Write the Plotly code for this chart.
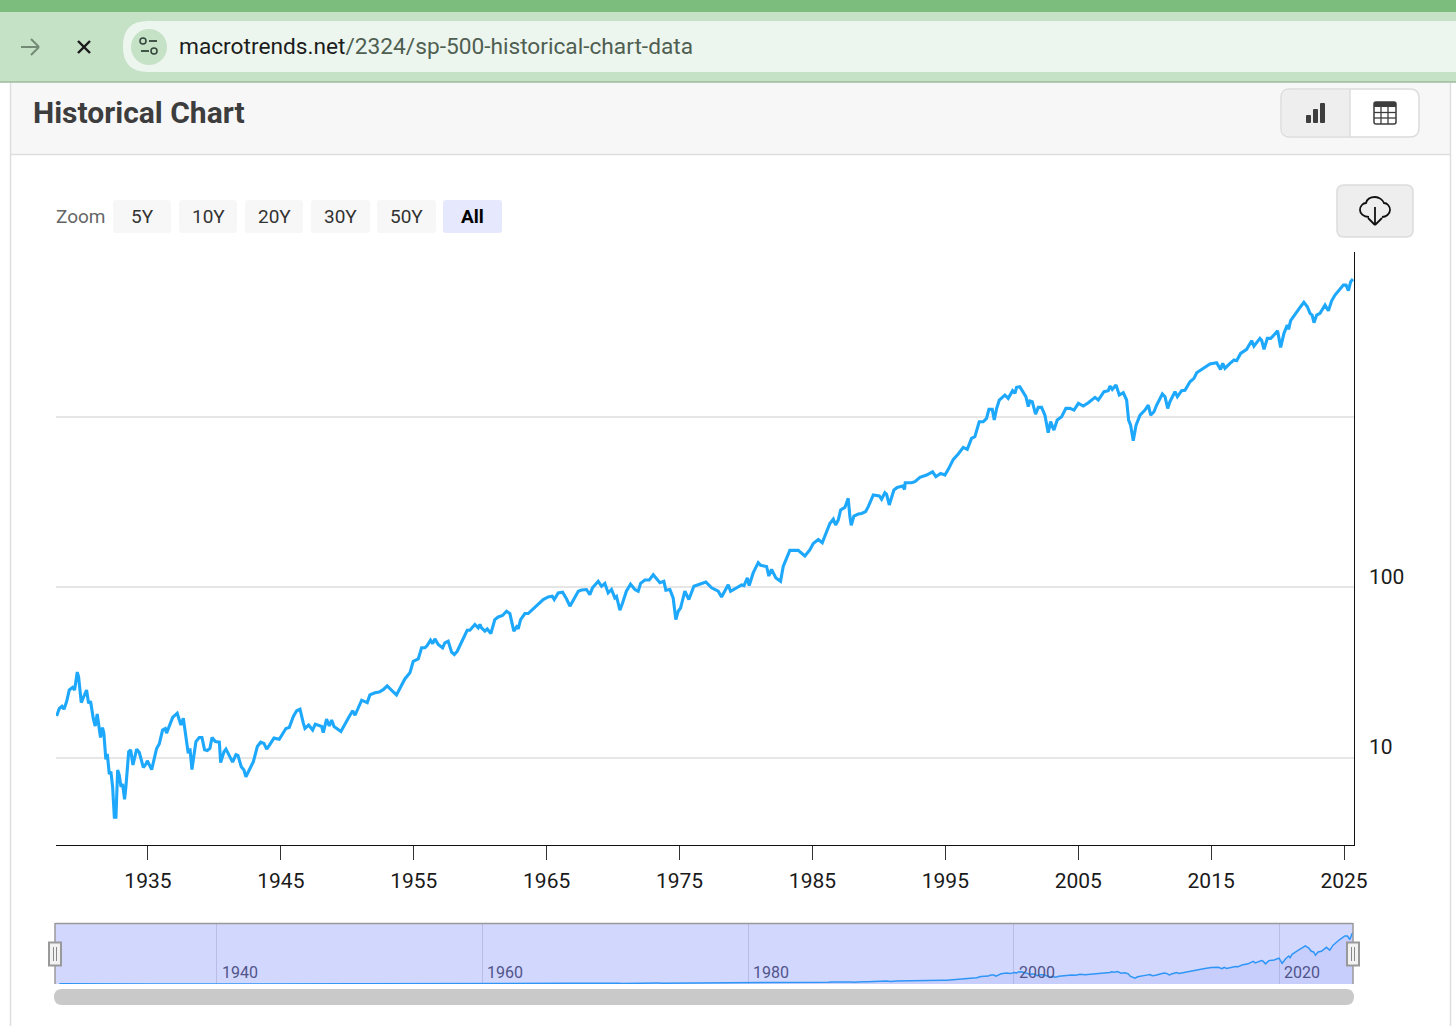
import plotly.graph_objects as go

W, H = 1456, 1026

years = [
 1928.13,1928.33,1928.53,1928.68,1928.88,1929.08,1929.33,1929.48,1929.68,1929.78,1929.98,
 1930.18,1930.38,1930.53,1930.68,1930.88,1931.03,1931.18,1931.43,1931.58,1931.68,1931.83,1931.94,
 1932.09,1932.21,1932.34,1932.47,1932.59,1932.72,1932.84,1932.97,1933.09,1933.24,1933.34,1933.55,1933.70,1933.87,
 1934.15,1934.35,1934.65,1934.85,1934.95,1935.28,1935.65,1935.85,1936.10,1936.30,1936.40,1936.66,1936.86,
 1937.20,1937.48,1937.66,1937.86,1938.03,1938.16,1938.31,1938.46,1938.61,1938.86,1939.06,1939.26,1939.46,1939.66,1939.82,
 1940.07,1940.37,1940.47,1940.72,1940.87,1941.12,1941.37,1941.62,1941.77,1942.02,1942.22,1942.37,1942.62,1942.93,
 1943.23,1943.48,1943.73,1943.93,1944.13,1944.48,1944.88,1945.18,1945.38,1945.63,1945.94,1946.19,1946.44,1946.69,1946.81,
 1947.09,1947.39,1947.59,1948.07,1948.19,1948.44,1948.64,1948.82,1949.00,1949.52,1950.07,1950.40,1950.58,
 1951.08,1951.50,1951.70,1952.08,1952.40,1952.70,1953.00,1953.40,1953.70,
 1954.33,1954.71,1954.96,1955.34,1955.59,1955.84,1956.01,1956.26,1956.42,1956.59,1956.84,1957.17,1957.34,1957.59,1957.85,
 1958.05,1958.27,1958.72,1959.02,1959.22,1959.60,1959.85,1959.98,1960.10,1960.35,1960.53,1960.80,1961.10,1961.36,1961.68,1961.98,
 1962.23,1962.53,1962.74,1962.86,1963.04,1963.36,1963.61,1963.99,1964.37,1964.74,1965.12,1965.42,1965.57,1965.87,1966.20,1966.50,1966.75,
 1967.05,1967.38,1967.63,1968.00,1968.25,1968.45,1968.88,1969.13,1969.38,1969.63,1969.88,1970.13,1970.26,1970.51,1970.71,
 1971.00,1971.31,1971.64,1971.89,1972.07,1972.39,1972.72,1973.02,1973.27,1973.52,1973.82,1973.97,1974.27,1974.52,1974.72,1974.90,
 1975.08,1975.40,1975.70,1976.08,1976.40,1976.98,1977.41,1977.91,1978.16,1978.66,1978.84,1979.29,1979.67,1979.85,
 1980.10,1980.24,1980.54,1980.92,1981.10,1981.55,1981.72,1981.92,1982.25,1982.60,1982.80,1983.30,1983.93,1984.43,1984.80,
 1985.06,1985.44,1985.74,1986.06,1986.31,1986.57,1986.74,1986.94,1987.12,1987.44,1987.69,1987.82,1987.92,
 1988.12,1988.45,1988.70,1989.00,1989.20,1989.58,1990.03,1990.20,1990.45,1990.58,1990.78,1991.13,1991.38,1991.78,1991.93,1991.98,
 1992.46,1992.71,1993.09,1993.59,1994.04,1994.29,1994.64,1994.97,1995.22,1995.60,1995.97,1996.35,1996.65,1996.97,
 1997.22,1997.55,1997.85,1998.10,1998.28,1998.53,1998.68,1998.86,1999.06,1999.48,1999.73,2000.06,2000.24,2000.36,2000.60,2000.86,
 2001.06,2001.24,2001.36,2001.54,2001.79,2001.99,2002.24,2002.49,2002.74,2002.92,2003.17,2003.42,2003.75,2004.07,
 2004.38,2004.68,2005.01,2005.38,2005.76,2006.26,2006.51,2006.94,2007.26,2007.39,2007.56,2007.84,
 2008.09,2008.39,2008.64,2008.79,2008.94,2009.14,2009.35,2009.65,2010.02,2010.27,2010.45,2010.70,2010.90,
 2011.33,2011.53,2011.73,2011.90,2012.28,2012.46,2012.78,2013.03,2013.41,2013.71,2013.91,2014.41,2014.91,
 2015.41,2015.71,2015.87,2016.04,2016.42,2016.72,2016.92,2017.22,2017.67,2018.05,2018.22,2018.67,2018.80,2018.98,
 2019.23,2019.48,2019.63,2020.00,2020.23,2020.48,2020.73,2020.83,2020.98,2021.43,2021.73,2021.98,
 2022.24,2022.44,2022.60,2022.74,2022.94,2023.19,2023.57,2023.82,2024.07,2024.32,2024.57,2024.95,2025.15,2025.33,2025.50,2025.67,
]
sp500 = [
 17.5,19.4,20.0,19.2,21.3,24.9,25.8,24.9,31.7,29.8,21.0,
 22.7,24.9,20.8,21.4,17.0,15.3,18.0,13.1,15.0,13.9,9.75,10.5,
 8.0,8.26,6.74,4.46,4.46,8.45,7.9,6.74,7.0,5.68,6.74,10.8,11.07,9.04,
 11.2,10.7,8.75,9.16,9.58,8.5,11.3,12.0,14.5,14.8,13.9,15.9,17.2,
 18.2,15.5,17.0,12.7,10.6,11.3,8.5,10.3,12.4,13.1,13.1,11.1,11.0,11.3,13.1,
 12.4,12.3,9.33,10.8,11.2,10.3,9.4,10.4,10.3,8.83,8.45,7.72,8.5,9.45,
 11.6,12.3,12.1,11.2,11.8,13.0,12.8,13.9,14.8,15.0,17.4,18.8,19.2,15.9,14.8,
 15.5,14.5,15.7,15.2,14.0,16.8,15.3,16.6,15.2,14.2,17.0,18.8,17.7,
 21.7,21.0,23.3,24.0,24.2,25.0,26.3,24.5,23.3,
 28.9,31.4,36.7,37.9,44.0,44.0,45.4,48.8,46.6,49.7,46.0,44.0,47.0,48.1,41.5,
 40.2,42.0,49.2,55.8,55.8,60.3,57.6,60.3,57.6,55.1,56.8,53.4,64.4,66.8,68.1,72.1,
 69.9,55.1,58.4,56.8,64.4,69.9,69.9,74.5,80.0,84.5,87.5,88.3,84.5,92.4,93.3,85.1,77.2,
 85.1,94.5,96.0,96.7,90.3,98.9,108,101,105,92.4,96.7,86.3,88.0,73.1,80.7,
 94.5,104,96.7,94.5,105,110,110,118,111,106,108,95.8,96.7,86.3,64.4,72.1,
 75.5,94.5,84.5,101,103,107,98.9,94.5,87.5,103,94.5,99,103,102,
 113,102,121,139,134,132,116,127,113,108,132,164,164,152,165,
 180,190,182,211,236,250,231,247,283,293,331,258,230,
 261,268,270,277,296,347,342,327,357,350,303,371,384,391,374,409,
 409,415,440,454,474,444,464,454,490,561,603,659,642,745,
 762,932,932,975,1102,1102,955,1116,1250,1337,1278,1418,1368,1483,1497,1380,
 1307,1142,1233,1222,1034,1132,1132,1020,803,933,833,955,998,1116,
 1116,1091,1194,1152,1205,1295,1249,1399,1418,1510,1443,1530,
 1337,1380,1250,954,891,721,891,1020,1091,1168,1020,1067,1168,
 1356,1307,1116,1222,1399,1307,1418,1426,1600,1675,1807,1917,2033,
 2068,1890,2051,1917,2051,2144,2125,2345,2477,2786,2589,2875,2800,2477,
 2875,2875,2950,3188,2545,3076,3441,3244,3648,4120,4406,4675,
 4406,4027,3936,3550,3936,4027,4509,4169,4775,5157,5470,5902,5902,5470,6180,6398,
]
main_ticks = [1935,1945,1955,1965,1975,1985,1995,2005,2015,2025]
grid_values = [10,100,1000]
y_label_values = [10,100]
nav_ticks = [1940,1960,1980,2000,2020]
zoom_labels = ["5Y","10Y","20Y","30Y","50Y","All"]

LINE = "#1ea8fc"
def X(p): return p / W
def Y(p): return 1 - p / H

def rrect(x0, y0, x1, y1, r):
    pts = [(x0+r,y0),(x1-r,y0),(x1,y0+r),(x1,y1-r),(x1-r,y1),(x0+r,y1),(x0,y1-r),(x0,y0+r)]
    f = lambda a: f"{X(a[0]):.6f},{Y(a[1]):.6f}"
    return (f"M{f(pts[0])} L{f(pts[1])} Q{f((x1,y0))} {f(pts[2])} L{f(pts[3])} Q{f((x1,y1))} {f(pts[4])} "
            f"L{f(pts[5])} Q{f((x0,y1))} {f(pts[6])} L{f(pts[7])} Q{f((x0,y0))} {f(pts[0])} Z")

shapes = []
def rect(x0,y0,x1,y1,fill,line=None,lw=0,layer="below"):
    shapes.append(dict(type="rect",xref="paper",yref="paper",x0=X(x0),x1=X(x1),y0=Y(y0),y1=Y(y1),
                       fillcolor=fill,line=dict(color=line or fill,width=lw),layer=layer))
def rr(x0,y0,x1,y1,r,fill,line=None,lw=0,layer="below"):
    shapes.append(dict(type="path",xref="paper",yref="paper",path=rrect(x0,y0,x1,y1,r),fillcolor=fill,
                       line=dict(color=line or fill,width=lw),layer=layer))
def seg(x0,y0,x1,y1,color,lw=1,layer="below"):
    shapes.append(dict(type="line",xref="paper",yref="paper",x0=X(x0),x1=X(x1),y0=Y(y0),y1=Y(y1),
                       line=dict(color=color,width=lw),layer=layer))
def circ(cx,cy,r,fill,line=None,lw=0,layer="below"):
    shapes.append(dict(type="circle",xref="paper",yref="paper",x0=X(cx-r),x1=X(cx+r),y0=Y(cy+r),y1=Y(cy-r),
                       fillcolor=fill,line=dict(color=line or fill,width=lw),layer=layer))
def curve(pts,color,lw):
    f = lambda a: f"{X(a[0]):.6f},{Y(a[1]):.6f}"
    d = "M"+f(pts[0])
    for i in range(1,len(pts),3):
        d += " C"+f(pts[i])+" "+f(pts[i+1])+" "+f(pts[i+2])
    shapes.append(dict(type="path",xref="paper",yref="paper",path=d,line=dict(color=color,width=lw),layer="below"))

annotations = []
def txt(s,x,y,size,color,anchor="left",bold=False):
    annotations.append(dict(text=f"<b>{s}</b>" if bold else s,xref="paper",yref="paper",x=X(x),y=Y(y),
                            xanchor=anchor,yanchor="middle",showarrow=False,
                            font=dict(family="Roboto",size=size,color=color)))

# Browser bar
rect(0,0,W,12,"#7cbd7e")
rect(0,12,W,82,"#c5e1c6")
seg(0,82,W,82,"#9db89e",1.5)
rr(123,21,W+40,72,25,"#edf6ee")
circ(149,47,18,"#c5e1c6")
circ(143,41,3,"#c5e1c6","#33453a",1.5); seg(149,41,157,41,"#33453a",1.8)
circ(154,51,3,"#c5e1c6","#33453a",1.5); seg(141,51,149,51,"#33453a",1.8)
seg(21,47,39,47,"#748a76",2); seg(31,39,39,47,"#748a76",2); seg(31,55,39,47,"#748a76",2)
seg(78,41,90,53,"#1a1a1a",2.4); seg(90,41,78,53,"#1a1a1a",2.4)
txt('macrotrends.net<span style="color:#4f5f52">/2324/sp-500-historical-chart-data</span>',177,47,22.7,"#1c1c1c")

# Card
rect(11,83,1450,154,"#f7f7f7")
seg(10.5,83,10.5,H,"#dedede",1.5); seg(1450.5,83,1450.5,H,"#dedede",1.5)
seg(10,154.5,1451,154.5,"#dedede",1.5)
txt("Historical Chart",31,112,30,"#3d3d3d",bold=True)
rr(1281,89,1419,137,9,"#ffffff","#dcdcdc",1.5)
rr(1282,90,1350,136,8,"#eeeeee")
rect(1342,90,1350,136,"#eeeeee")
seg(1350,89,1350,137,"#dcdcdc",1.5)
rr(1306,115,1311,123,1,"#3d3d3d"); rr(1313,109,1318,123,1,"#3d3d3d"); rr(1320,103,1325,123,1,"#3d3d3d")
rr(1374,102,1396,124,2,"#ffffff","#3d3d3d",1.5)
rect(1374,102,1396,107,"#3d3d3d")
for gx in (1381,1388): seg(gx,107,gx,124,"#3d3d3d",1.3)
for gy in (112.5,118): seg(1374,gy,1396,gy,"#3d3d3d",1.3)

# Zoom row
txt("Zoom",54,216.5,19,"#666666")
zoom_px = [(113,171),(179,237),(245,303),(311,370),(377,436),(443,502)]
for (a,b),lab in zip(zoom_px,zoom_labels):
    on = lab=="All"
    rr(a,200,b,233,3,"#e6e8fd" if on else "#f7f7f7")
    txt(lab,(a+b)/2,216.5,19,"#000000" if on else "#333333","center",on)

# Download button
rr(1337,185,1413,237,7,"#eeeeee","#dcdcdc",1.5)
curve([(1369,217),(1363,217),(1360,213),(1360,210),(1360,206),(1363,203),(1366,203),(1367,199),(1371,197),(1375,197),
       (1379,197),(1383,200),(1384,203),(1387,203),(1390,206),(1390,210),(1390,214),(1386,217),(1382,217)],"#111111",1.8)
seg(1375,207,1375,225,"#111111",1.8); seg(1368,218,1375,225,"#111111",1.8); seg(1382,218,1375,225,"#111111",1.8)

# Navigator
rect(55,923,1353,984,"#d2d7fd")
rr(54,989,1354,1005,8,"#c9c9c9")

# Main y labels
for v in y_label_values:
    annotations.append(dict(text=str(v),xref="paper",yref="y",x=X(1367),y=len(str(v))-1,yshift=10.5,xanchor="left",
                            yanchor="middle",showarrow=False,font=dict(family="Roboto",size=21,color="#1a1a1a")))
# Navigator labels
for t in nav_ticks:
    annotations.append(dict(text=str(t),xref="x2",yref="paper",x=t,y=Y(972),xshift=3,xanchor="left",yanchor="middle",
                            showarrow=False,font=dict(family="Roboto",size=16,color="#50548a")))

# Navigator frame and handles, above traces
seg(55,923.5,1353,923.5,"#999999",1.5,"above")
seg(55,923,55,984,"#999999",1.5,"above"); seg(1353,923,1353,984,"#999999",1.5,"above")
for cx in (55,1353):
    rect(cx-6,942.5,cx+6,965.5,"#f2f2f2","#999999",2,"above")
    seg(cx-1.5,947,cx-1.5,961,"#888888",1,"above"); seg(cx+1.5,947,cx+1.5,961,"#888888",1,"above")

fig = go.Figure()
fig.add_trace(go.Scatter(x=years,y=sp500,mode="lines",line=dict(color=LINE,width=3.1),xaxis="x",yaxis="y",hoverinfo="skip"))
fig.add_trace(go.Scatter(x=years,y=sp500,mode="lines",line=dict(color="#2f96f7",width=1.5),fill="tozeroy",
                         fillcolor="rgba(120,150,250,0.12)",xaxis="x2",yaxis="y2",hoverinfo="skip"))

fig.update_layout(
    width=W,height=H,margin=dict(l=0,r=0,t=0,b=0,autoexpand=False),showlegend=False,
    paper_bgcolor="#ffffff",plot_bgcolor="rgba(0,0,0,0)",
    shapes=shapes,annotations=annotations,
    xaxis=dict(domain=[X(56),X(1354)],range=[1928.08,2025.75],anchor="y",tickmode="array",tickvals=main_ticks,
               ticktext=[str(t) for t in main_ticks],ticks="outside",ticklen=14,tickwidth=1,tickcolor="#333333",
               ticklabelstandoff=3,showline=True,linecolor="#111111",linewidth=1,showgrid=False,zeroline=False,
               tickfont=dict(family="Roboto",size=21,color="#1a1a1a")),
    yaxis=dict(domain=[Y(845),Y(252)],type="log",range=[0.487,3.965],side="right",anchor="x",tickmode="array",
               tickvals=grid_values,showticklabels=False,ticks="",showgrid=True,gridcolor="#e6e6e6",gridwidth=1.6,
               showline=True,linecolor="#111111",linewidth=1,zeroline=False),
    xaxis2=dict(domain=[X(55),X(1353)],range=[1927.8,2025.57],anchor="y2",tickmode="array",tickvals=nav_ticks,
                showticklabels=False,ticks="",showgrid=True,gridcolor="#b8bce6",gridwidth=1,zeroline=False,showline=False),
    yaxis2=dict(domain=[Y(984),Y(923)],range=[0,7500],anchor="x2",showticklabels=False,showgrid=False,zeroline=False,ticks=""),
)
fig.write_html("out.html",config=dict(displayModeBar=False),
               post_script="document.body.style.margin='0';document.documentElement.style.overflow='hidden';")
